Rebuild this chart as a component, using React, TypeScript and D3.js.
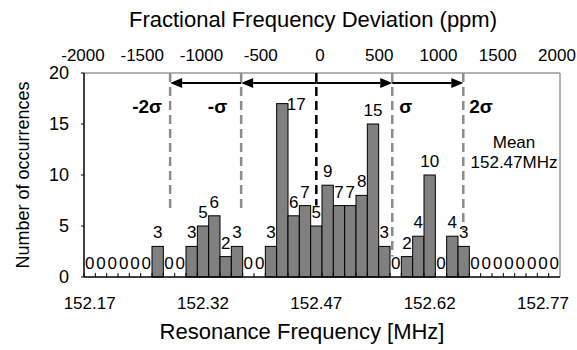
import React from "react";
import * as d3 from "d3";

// histogram bins: 152.17 MHz + 0.015 MHz * i
const startFreq = 152.17;
const binStep = 0.015;
const counts = [
  0, 0, 0, 0, 0, 0, 3, 0, 0, 3, 5, 6, 2, 3, 0, 0, 3, 17, 6, 7, 5, 9, 7, 7, 8, 15,
  3, 0, 2, 4, 10, 0, 4, 3, 0, 0, 0, 0, 0, 0, 0, 0,
];
const bottomTicks = ["152.17", "152.32", "152.47", "152.62", "152.77"];
const topTicks = [-2000, -1500, -1000, -500, 0, 500, 1000, 1500, 2000];
const yTicks = [0, 5, 10, 15, 20];

// reference lines (MHz) and how far down they reach (counts)
const refLabels = ["-2σ", "-σ", "", "σ", "2σ"];
const refFreqs = [152.2765, 152.3705, 152.47, 152.5705, 152.6645];
const refEnds = [6.3, 6.3, 7, 2, 4.6];
const meanLabel = ["Mean", "152.47MHz"];

const W = 577;
const H = 350;
const m = { left: 84, right: 17, top: 73, bottom: 73 };
const font = "Liberation Sans, Arial, sans-serif";
const labelDx = [-8, -14, 0, 7, 6];

export default function App() {
  const x = d3
    .scaleBand<number>()
    .domain(counts.map((_, i) => i))
    .range([m.left, W - m.right])
    .padding(0);
  const bw = x.bandwidth();
  const xf = d3
    .scaleLinear()
    .domain([startFreq - binStep / 2, startFreq + (counts.length - 0.5) * binStep])
    .range([m.left, W - m.right]);
  const xp = d3.scaleLinear().domain([-2000, 2000]).range([83, 557]);
  const y = d3.scaleLinear().domain([0, 20]).range([H - m.bottom, m.top]);
  const y0 = y(0);
  const arrowY = 83;
  const meanX = xf(152.47);
  const maxCount = d3.max(counts);

  const arrow = (x1: number, x2: number, key: string) => {
    const dir = x2 > x1 ? 1 : -1;
    const hl = 12;
    return (
      <g key={key}>
        <line x1={x1} x2={x2 - dir * hl} y1={arrowY} y2={arrowY} stroke="#000" strokeWidth={2} />
        <path
          d={`M${x2},${arrowY} L${x2 - dir * hl},${arrowY - 5} L${x2 - dir * hl},${arrowY + 5} Z`}
          fill="#000"
        />
      </g>
    );
  };

  return (
    <svg
      width={W}
      height={H}
      style={{ position: "absolute", left: 0, top: 0, background: "#fff" }}
      fontFamily={font}
    >
      <rect width={W} height={H} fill="#fff" />
      {/* frame */}
      <line x1={m.left} x2={W - m.right} y1={m.top} y2={m.top} stroke="#999" strokeWidth={1.5} />
      <line x1={W - m.right} x2={W - m.right} y1={m.top} y2={y0} stroke="#999" strokeWidth={1.5} />

      {/* bars */}
      {counts.map((c, i) =>
        c > 0 ? (
          <rect
            key={"b" + i}
            x={x(i)}
            y={y(c)}
            width={bw}
            height={y0 - y(c)}
            fill="#808080"
            stroke="#000"
            strokeWidth={1}
          />
        ) : null
      )}

      {/* x ticks at bin edges */}
      {counts.map((_, i) => (
        <line key={"t" + i} x1={x(i)!} x2={x(i)!} y1={y0} y2={y0 - 4} stroke="#000" strokeWidth={1} />
      ))}
      <line x1={m.left} x2={W - m.right} y1={y0} y2={y0} stroke="#000" strokeWidth={1.5} />
      <line x1={m.left} x2={m.left} y1={m.top} y2={y0} stroke="#000" strokeWidth={1.5} />

      {/* bar labels */}
      {counts.map((c, i) => {
        const big = c === maxCount;
        return (
          <text
            key={"l" + i}
            x={x(i)! + bw / 2 + (big ? 14 : 0)}
            y={y(c) - (big ? -6 : 8)}
            textAnchor="middle"
            fontSize={17}
            fill="#000"
          >
            {c}
          </text>
        );
      })}

      {/* reference lines */}
      {refFreqs.map((f, i) => (
        <line
          key={"r" + i}
          x1={xf(f)}
          x2={xf(f)}
          y1={m.top}
          y2={y(refEnds[i])}
          stroke={i === 2 ? "#000" : "#8c8c8c"}
          strokeWidth={2.5}
          strokeDasharray="9,5"
        />
      ))}
      {arrow(meanX, xf(refFreqs[1]), "a1")}
      {arrow(xf(refFreqs[1]), xf(refFreqs[0]), "a2")}
      {arrow(meanX, xf(refFreqs[3]), "a3")}
      {arrow(xf(refFreqs[3]), xf(refFreqs[4]), "a4")}
      {refLabels.map((t, i) =>
        t ? (
          <text
            key={"s" + i}
            x={xf(refFreqs[i]) + labelDx[i]}
            y={113}
            textAnchor={i < 2 ? "end" : "start"}
            fontSize={19}
            fontWeight="bold"
          >
            {t}
          </text>
        ) : null
      )}
      {meanLabel.map((t, i) => (
        <text key={"m" + i} x={514} y={148 + i * 20} textAnchor="middle" fontSize={17}>
          {t}
        </text>
      ))}

      {/* y axis */}
      {yTicks.map((t) => (
        <g key={"y" + t}>
          <line x1={m.left - 3} x2={m.left} y1={y(t)} y2={y(t)} stroke="#000" />
          <text x={69} y={y(t) + 6} textAnchor="end" fontSize={18}>
            {t}
          </text>
        </g>
      ))}
      <text
        transform={`translate(29,${(m.top + y0) / 2}) rotate(-90)`}
        textAnchor="middle"
        fontSize={18}
      >
        Number of occurrences
      </text>

      {/* bottom axis labels */}
      {bottomTicks.map((t, i) => (
        <text key={"bt" + i} x={x(i * 10)! + bw / 2} y={309} textAnchor="middle" fontSize={17}>
          {t}
        </text>
      ))}
      <text x={302} y={339} textAnchor="middle" fontSize={22}>
        Resonance Frequency [MHz]
      </text>

      {/* top axis */}
      {topTicks.map((t) => (
        <text key={"tt" + t} x={xp(t)} y={61} textAnchor="middle" fontSize={17}>
          {t}
        </text>
      ))}
      <text x={313} y={27} textAnchor="middle" fontSize={22}>
        Fractional Frequency Deviation (ppm)
      </text>
    </svg>
  );
}
